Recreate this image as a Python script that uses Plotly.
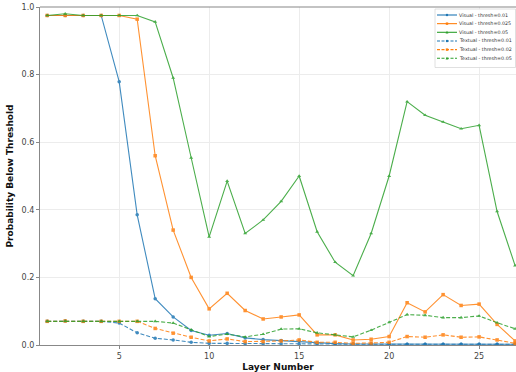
import plotly.graph_objects as go

layers = list(range(1, 28))

visual_001 = [0.975, 0.975, 0.975, 0.975, 0.779, 0.385, 0.137, 0.083, 0.043, 0.029, 0.034,
              0.021, 0.016, 0.013, 0.011, 0.006, 0.004, 0.003, 0.003, 0.003, 0.002, 0.002,
              0.002, 0.002, 0.002, 0.002, 0.002]
visual_0025 = [0.975, 0.975, 0.975, 0.975, 0.975, 0.964, 0.56, 0.34, 0.2, 0.107, 0.153,
               0.102, 0.077, 0.083, 0.089, 0.03, 0.03, 0.015, 0.017, 0.025, 0.125, 0.098,
               0.149, 0.117, 0.121, 0.061, 0.012]
visual_005 = [0.975, 0.98, 0.975, 0.975, 0.975, 0.975, 0.956, 0.79, 0.554, 0.32, 0.485,
              0.33, 0.37, 0.425, 0.5, 0.335, 0.245, 0.205, 0.33, 0.5, 0.72, 0.68,
              0.66, 0.64, 0.65, 0.395, 0.235]
textual_001 = [0.07, 0.071, 0.07, 0.07, 0.065, 0.036, 0.02, 0.015, 0.008, 0.005, 0.005,
               0.004, 0.004, 0.004, 0.003, 0.003, 0.003, 0.002, 0.002, 0.002, 0.002, 0.002,
               0.002, 0.002, 0.002, 0.002, 0.002]
textual_002 = [0.07, 0.071, 0.07, 0.07, 0.07, 0.07, 0.049, 0.035, 0.023, 0.012, 0.018,
               0.01, 0.01, 0.012, 0.015, 0.008, 0.008, 0.005, 0.006, 0.008, 0.025, 0.023,
               0.03, 0.023, 0.024, 0.015, 0.005]
textual_005 = [0.07, 0.071, 0.07, 0.07, 0.07, 0.07, 0.07, 0.065, 0.045, 0.025, 0.032,
               0.024, 0.032, 0.047, 0.048, 0.036, 0.03, 0.024, 0.044, 0.067, 0.09, 0.088,
               0.081, 0.081, 0.086, 0.066, 0.048]

BLUE, ORANGE, GREEN = "#1f77b4", "#ff7f0e", "#2ca02c"
DASH = "4px,2px"

series = [
    ("Visual - thresh=0.01", visual_001, BLUE, "solid", "circle"),
    ("Visual - thresh=0.025", visual_0025, ORANGE, "solid", "square"),
    ("Visual - thresh=0.05", visual_005, GREEN, "solid", "triangle-up"),
    ("Textual - thresh=0.01", textual_001, BLUE, DASH, "circle"),
    ("Textual - thresh=0.02", textual_002, ORANGE, DASH, "square"),
    ("Textual - thresh=0.05", textual_005, GREEN, DASH, "triangle-up"),
]

W, H = 516, 372
ML, MR, MT, MB = 40, 0, 7, 27
PW, PH = W - ML - MR, H - MT - MB


def px(xp):
    return (xp - ML) / PW


def py(yp):
    return (H - MB - yp) / PH


fig = go.Figure()
for name, vals, color, dash, sym in series:
    fig.add_trace(go.Scatter(
        x=layers, y=vals, name=name, mode="lines+markers",
        line=dict(color=color, width=1.1, dash=dash),
        marker=dict(symbol=sym, size=3.5, color=color),
        opacity=0.85, showlegend=False,
    ))

# compact legend box, upper right
shapes = [dict(type="rect", xref="paper", yref="paper",
               x0=px(435), x1=px(515.5), y0=py(67.5), y1=py(9),
               fillcolor="rgba(255,255,255,0.9)", line=dict(color="#d8d8d8", width=0.8),
               layer="above")]
annotations = []
for i, (name, vals, color, dash, sym) in enumerate(series):
    yc = 15 + i * 8.65
    shapes.append(dict(type="line", xref="paper", yref="paper",
                       x0=px(437), x1=px(457), y0=py(yc), y1=py(yc),
                       line=dict(color=color, width=1.1, dash="3px,1.5px" if dash != "solid" else "solid"),
                       layer="above"))
    if sym == "circle":
        shapes.append(dict(type="circle", xref="paper", yref="paper",
                           x0=px(445.8), x1=px(448.2), y0=py(yc + 1.2), y1=py(yc - 1.2),
                           fillcolor=color, line=dict(width=0), layer="above"))
    elif sym == "square":
        shapes.append(dict(type="rect", xref="paper", yref="paper",
                           x0=px(445.8), x1=px(448.2), y0=py(yc + 1.2), y1=py(yc - 1.2),
                           fillcolor=color, line=dict(width=0), layer="above"))
    else:
        shapes.append(dict(type="path", xref="paper", yref="paper",
                           path=f"M {px(445.6)} {py(yc + 1.2)} L {px(448.4)} {py(yc + 1.2)} "
                                f"L {px(447)} {py(yc - 1.5)} Z",
                           fillcolor=color, line=dict(width=0), layer="above"))
    annotations.append(dict(xref="paper", yref="paper", x=px(458), y=py(yc),
                            xanchor="left", yanchor="middle", showarrow=False,
                            borderpad=0,
                            text=name, font=dict(size=4.8, color="#333")))

fig.update_layout(
    width=W, height=H,
    margin=dict(l=ML, r=MR, t=MT, b=MB),
    paper_bgcolor="white", plot_bgcolor="white",
    font=dict(family="DejaVu Sans", size=8, color="#444"),
    showlegend=False,
    shapes=shapes, annotations=annotations,
)
fig.update_xaxes(
    range=[0.6, 27.05], tickvals=[5, 10, 15, 20, 25],
    showgrid=True, gridcolor="#ececec", gridwidth=1,
    showline=True, linecolor="#888", linewidth=1.2,
    ticks="outside", ticklen=3, tickcolor="#888",
    zeroline=False,
    title=dict(text="<b>Layer Number</b>", font=dict(size=9, color="#111"), standoff=4),
)
fig.update_yaxes(
    range=[0, 1.0], tickvals=[0, 0.2, 0.4, 0.6, 0.8, 1.0], tickformat=".1f",
    showgrid=True, gridcolor="#ececec", gridwidth=1,
    showline=True, linecolor="#888", linewidth=1.2,
    ticks="outside", ticklen=3, tickcolor="#888",
    zeroline=False,
    title=dict(text="<b>Probability Below Threshold</b>", font=dict(size=9, color="#111"), standoff=6),
)
# top frame line
fig.add_shape(type="line", xref="paper", yref="paper", x0=0, x1=1, y0=1, y1=1,
              line=dict(color="#888", width=1.2))

fig.write_html("out.html")
